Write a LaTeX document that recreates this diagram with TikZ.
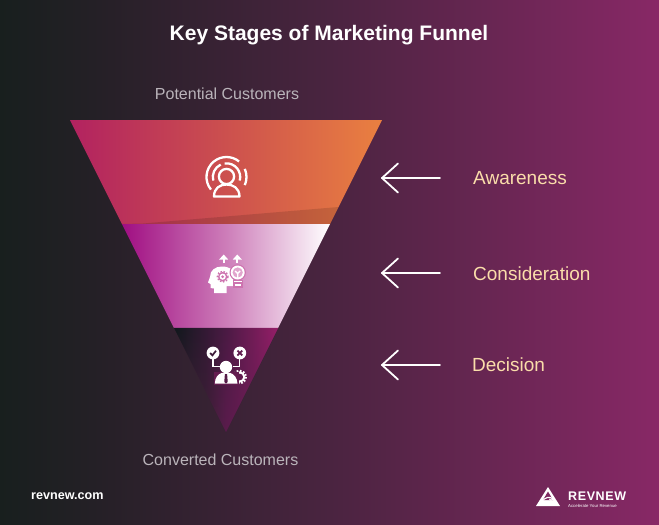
\documentclass[tikz,border=0pt]{standalone}
\usepackage{fontspec}
\setmainfont{Liberation Sans}
\usetikzlibrary{fadings}
\definecolor{cream}{RGB}{250,221,170}
\definecolor{softgrey}{RGB}{186,180,186}
\definecolor{gearpink}{RGB}{205,115,175}
\definecolor{bulbpink}{RGB}{225,165,205}
\definecolor{checkc}{RGB}{60,26,56}
\definecolor{crossc}{RGB}{95,28,78}
\definecolor{lowmid}{RGB}{85,27,72}
\definecolor{lowgear}{RGB}{100,28,80}
\definecolor{logobg}{RGB}{125,40,96}
\pgfdeclarehorizontalshading{bggrad}{100bp}{
 color(0bp)=(rgb,255:red,24;green,31;blue,30);
 color(25bp)=(rgb,255:red,24;green,31;blue,30);
 color(32bp)=(rgb,255:red,36;green,32;blue,38);
 color(50bp)=(rgb,255:red,74;green,36;blue,64);
 color(75bp)=(rgb,255:red,136;green,40;blue,102);
 color(100bp)=(rgb,255:red,136;green,40;blue,102)}
\pgfdeclarehorizontalshading{topgrad}{100bp}{
 color(0bp)=(rgb,255:red,178;green,34;blue,96);
 color(25bp)=(rgb,255:red,178;green,34;blue,96);
 color(50bp)=(rgb,255:red,204;green,80;blue,78);
 color(75bp)=(rgb,255:red,234;green,128;blue,64);
 color(100bp)=(rgb,255:red,234;green,128;blue,64)}
\pgfdeclarehorizontalshading{midgrad}{100bp}{
 color(0bp)=(rgb,255:red,160;green,14;blue,130);
 color(25bp)=(rgb,255:red,160;green,14;blue,130);
 color(50bp)=(rgb,255:red,205;green,125;blue,185);
 color(75bp)=(rgb,255:red,255;green,255;blue,255);
 color(100bp)=(rgb,255:red,255;green,255;blue,255)}
\pgfdeclarehorizontalshading{lowgrad}{100bp}{
 color(0bp)=(rgb,255:red,16;green,24;blue,28);
 color(25bp)=(rgb,255:red,16;green,24;blue,28);
 color(50bp)=(rgb,255:red,75;green,26;blue,68);
 color(75bp)=(rgb,255:red,150;green,30;blue,105);
 color(100bp)=(rgb,255:red,150;green,30;blue,105)}
\pgfdeclarehorizontalshading{lowbase}{100bp}{
 color(0bp)=(rgb,255:red,58;green,33;blue,52);
 color(25bp)=(rgb,255:red,58;green,33;blue,52);
 color(40bp)=(rgb,255:red,60;green,32;blue,54);
 color(50bp)=(rgb,255:red,90;green,28;blue,76);
 color(75bp)=(rgb,255:red,125;green,30;blue,92);
 color(100bp)=(rgb,255:red,125;green,30;blue,92)}
\tikzset{
 lbl/.style={inner sep=0pt,anchor=west,text=cream,font=\fontsize{19}{19}\selectfont},
 captext/.style={inner sep=0pt,text=softgrey,font=\fontsize{16}{16}\selectfont},
 pointer/.style={draw=white,line width=1.8pt,line cap=round,line join=round},
 ico/.style={draw=white,line width=2.3pt},
}
\begin{document}
\begin{tikzpicture}[x=1pt,y=1pt,yscale=-1]
\useasboundingbox (0,0) rectangle (659,525);
\shade[shading=bggrad] (0,0) rectangle (659,525);
% funnel
\shade[shading=topgrad] (70,120) -- (382,120) -- (330,224) -- (122,224) -- cycle;
\fill[black,opacity=0.13] (143,223.5) -- (338.5,207) -- (330,224) -- (122,224) -- cycle;
\shade[shading=midgrad] (122,224) -- (330,224) -- (278,328) -- (174,328) -- cycle;
\shade[shading=lowbase] (174,328) -- (278,328) -- (226,432) -- cycle;
\shade[shading=lowgrad,path fading=south] (174,328) -- (278,328) -- (226,432) -- cycle;
% icon 1
\draw[ico] (226.5,177) ++(141:20) arc (141:309:20);
\draw[ico] (226.5,177) ++(-24:20) arc (-24:24:20);
\draw[ico] (226.5,177) ++(165:13.7) arc (165:245:13.7);
\draw[ico] (226.5,177) ++(262:13.7) arc (262:375:13.7);
\draw[ico] (226.5,176.5) circle (7.6);
\draw[ico,line join=round] (214,196.5) -- (239.5,196.5) .. controls (239.5,188) and (233,184.5) .. (226.5,184.5) .. controls (220,184.5) and (214,188) .. (214,196.5) -- cycle;
% icon 2
\draw[white,line width=2.2pt] (223.7,263) -- (223.7,258);
\fill[white] (219.2,259.5) -- (223.7,254.5) -- (228.2,259.5) -- cycle;
\draw[white,line width=2.2pt] (237.3,263) -- (237.3,258);
\fill[white] (232.8,259.5) -- (237.3,254.5) -- (241.8,259.5) -- cycle;
\fill[white] (214,293) -- (214,288.5) -- (210.5,288) -- (210.5,284) -- (208,282.5) -- (210,277) .. controls (210,270) and (215.5,266.5) .. (222,266.5) .. controls (226,266.5) and (229.5,267.5) .. (233,270.5) -- (233,286) -- (226.5,286) -- (226.5,293) -- cycle;
\draw[gearpink,line width=1.4pt,dash pattern=on 1.6pt off 1.6pt] (222.7,276.7) circle (5.4);
\fill[gearpink] (222.7,276.7) circle (4.7);
\fill[white] (222.7,276.7) circle (3.1);
\fill[gearpink] (222.7,276.7) circle (1.5);
\fill[gearpink] (237.7,272.5) circle (8.2);
\fill[white] (237.7,272.5) circle (7);
\fill[bulbpink] (237.7,272.5) circle (5.1);
\draw[white,line width=1.4pt] (237.7,278) -- (237.7,273.5) -- (235.2,271) (237.7,273.5) -- (240.2,271);
\fill[gearpink] (233,279.5) rectangle (243,287.5);
\draw[white,line width=1.8pt] (233.5,281.5) -- (242,281.5) (234.5,285) -- (241,285);
% icon 3
\fill[white] (213,353) circle (6.4);
\fill[white] (239.8,353) circle (6.4);
\draw[checkc,line width=1.7pt] (210.2,353) -- (212.4,355.4) -- (216,350.7);
\draw[crossc,line width=1.8pt] (237.4,350.6) -- (242.2,355.4) (242.2,350.6) -- (237.4,355.4);
\draw[white,line width=1.3pt] (213,359) -- (213,366.2) -- (220,366.2);
\draw[white,line width=1.3pt] (239.8,359) -- (239.8,366.2) -- (233,366.2);
\draw[white,line width=2pt] (239.7,377) circle (4.6);
\draw[white,line width=2.2pt,dash pattern=on 1.6pt off 1.6pt] (239.7,377) circle (6.1);
\fill[lowgear] (214,372) -- (239,372) -- (239,385) -- (214,385) -- cycle;
\fill[white] (226,367) circle (6.2);
\fill[white] (214.8,383.7) .. controls (215,377.5) and (218,374) .. (222,372.8) -- (230,372.8) .. controls (234,374) and (237.2,377.5) .. (237.5,383.7) -- cycle;
\fill[lowmid] (224.9,374) -- (227.1,374) -- (227.7,381.8) -- (226,383.7) -- (224.3,381.8) -- cycle;
% arrows
\coordinate (tipa) at (382,178); \coordinate (taila) at (440,178);
\coordinate (tipb) at (382,273); \coordinate (tailb) at (440,273);
\coordinate (tipc) at (382,365); \coordinate (tailc) at (440,365);
\foreach \t/\e in {tipa/taila,tipb/tailb,tipc/tailc}{
 \draw[pointer] (\e) -- (\t);
 \draw[pointer] ([shift={(16,-14.5)}]\t) -- (\t) -- ([shift={(16,14.5)}]\t);
}
% texts
\node[inner sep=0pt,text=white,font=\fontsize{21}{21}\bfseries\selectfont] (title) at (329,35) {Key Stages of Marketing Funnel};
\node[captext] (pot) at (227,94) {Potential Customers};
\node[captext] (conv) at (220.5,459.5) {Converted Customers};
\node[lbl] (aw) at (473,178) {Awareness};
\node[lbl] (co) at (473,274) {Consideration};
\node[lbl] (de) at (472,365) {Decision};
\node[inner sep=0pt,anchor=west,text=white,font=\fontsize{12.6}{12.6}\bfseries\selectfont] (site) at (31,496.5) {revnew.com};
% logo
\fill[white] (548,487) -- (560,506) -- (536,506) -- cycle;
\fill[logobg] (548,491.5) -- (553,500) -- (543,500) -- cycle;
\draw[white,line width=1.1pt] (541.5,502) .. controls (545,497) and (550,496) .. (553,499) .. controls (552,501) and (549.5,500.5) .. (549.5,499);
\node[inner sep=0pt,anchor=west,text=white,font=\fontsize{12.5}{12.5}\bfseries\selectfont] (brand) at (568,496.5) {R\kern0.6pt E\kern0.6pt V\kern0.6pt N\kern0.6pt E\kern0.6pt W};
\node[inner sep=0pt,anchor=west,text=white,font=\fontsize{4.3}{4.3}\selectfont] (tag) at (568,505.5) {Accelerate Your Revenue};
\end{tikzpicture}
\end{document}
